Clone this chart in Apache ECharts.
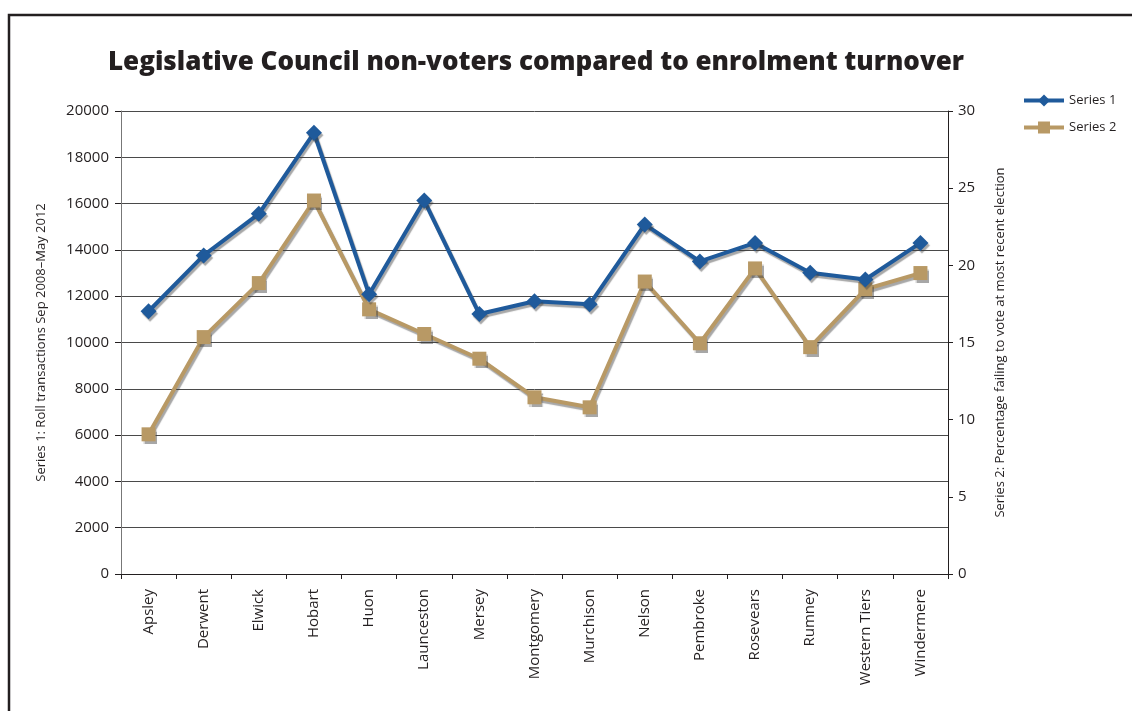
<!DOCTYPE html>
<html>
<head>
<meta charset="utf-8">
<script src="https://cdn.jsdelivr.net/npm/echarts@6/dist/echarts.min.js"></script>
<style>
html,body{margin:0;padding:0;background:#fff;}
#c{width:1132px;height:711px;}
</style>
</head>
<body>
<div id="c"></div>
<script>
const categories = ['Apsley','Derwent','Elwick','Hobart','Huon','Launceston','Mersey','Montgomery','Murchison','Nelson','Pembroke','Rosevears','Rumney','Western Tiers','Windermere'];
const series1 = [11350, 13760, 15560, 19060, 12080, 16130, 11230, 11780, 11650, 15100, 13500, 14300, 13010, 12720, 14300];
const series2 = [9.05, 15.35, 18.85, 24.2, 17.15, 15.55, 13.95, 11.45, 10.8, 18.95, 14.95, 19.8, 14.7, 18.45, 19.5];
const leftTicks = {min: 0, max: 20000, interval: 2000};
const rightTicks = {min: 0, max: 30, interval: 5};

const FONT = "'Open Sans', 'Noto Sans', sans-serif";
const TXT = '#231f20';
const BLUE = '#1f5a9b';
const TAN = '#b89965';
const shadow = {shadowColor: 'rgba(60,60,60,0.45)', shadowOffsetX: 1.5, shadowOffsetY: 2.5, shadowBlur: 1};

const chart = echarts.init(document.getElementById('c'), null, {renderer: 'canvas'});
chart.setOption({
  backgroundColor: '#fff',
  animation: false,
  textStyle: {fontFamily: FONT, color: TXT},
  graphic: [{
    type: 'rect', silent: true,
    shape: {x: 9, y: 15, width: 1200, height: 800},
    style: {fill: 'none', stroke: '#231f20', lineWidth: 2.5}
  }],
  title: {
    text: 'Legislative Council non-voters compared to enrolment turnover',
    left: 531, top: 45, textAlign: 'center',
    textStyle: {fontFamily: FONT, fontWeight: 800, fontSize: 26, color: TXT}
  },
  legend: {
    orient: 'vertical', left: 1017, top: 89, itemGap: 14,
    itemWidth: 40, itemHeight: 15,
    textStyle: {fontFamily: FONT, fontSize: 13, color: TXT},
    data: [
      {name: 'Series 1', lineStyle: {width: 4, color: BLUE}, itemStyle: {color: BLUE}},
      {name: 'Series 2', lineStyle: {width: 4, color: TAN}, itemStyle: {color: TAN}}
    ]
  },
  grid: {left: 121, right: 184, top: 111, bottom: 137},
  xAxis: {
    type: 'category', data: categories, boundaryGap: true,
    axisLine: {lineStyle: {color: '#231f20', width: 1}},
    axisTick: {show: true, length: 5, lineStyle: {color: '#231f20'}},
    axisLabel: {rotate: 90, fontSize: 15, color: TXT, fontFamily: FONT, margin: 15, interval: 0}
  },
  yAxis: [{
    type: 'value', position: 'left',
    min: leftTicks.min, max: leftTicks.max, interval: leftTicks.interval,
    name: 'Series 1: Roll transactions Sep 2008\u2013May 2012',
    nameLocation: 'middle', nameGap: 73, nameRotate: 90,
    nameTextStyle: {fontSize: 13, color: TXT, fontFamily: FONT},
    axisLine: {show: true, lineStyle: {color: '#777', width: 1}},
    axisTick: {show: true, length: 6, lineStyle: {color: '#231f20'}},
    axisLabel: {fontSize: 15, color: TXT, fontFamily: FONT, margin: 12, formatter: v => String(v)},
    splitLine: {show: true, lineStyle: {color: '#4a4a4a', width: 1}}
  }, {
    type: 'value', position: 'right',
    min: rightTicks.min, max: rightTicks.max, interval: rightTicks.interval,
    name: 'Series 2: Percentage failing to vote at most recent election',
    nameLocation: 'middle', nameGap: 46, nameRotate: 90,
    nameTextStyle: {fontSize: 13, color: TXT, fontFamily: FONT},
    axisLine: {show: true, lineStyle: {color: '#231f20', width: 1}},
    axisTick: {show: true, length: 5, lineStyle: {color: '#231f20'}},
    axisLabel: {fontSize: 15, color: TXT, fontFamily: FONT, margin: 10},
    splitLine: {show: false}
  }],
  series: [{
    name: 'Series 2', type: 'line', yAxisIndex: 1, data: series2,
    symbol: 'rect', symbolSize: 14, z: 2,
    lineStyle: Object.assign({color: TAN, width: 4}, shadow),
    itemStyle: Object.assign({color: TAN}, shadow)
  }, {
    name: 'Series 1', type: 'line', yAxisIndex: 0, data: series1,
    symbol: 'diamond', symbolSize: 16, z: 3,
    lineStyle: Object.assign({color: BLUE, width: 4}, shadow),
    itemStyle: Object.assign({color: BLUE}, shadow)
  }]
});
</script>
</body>
</html>
